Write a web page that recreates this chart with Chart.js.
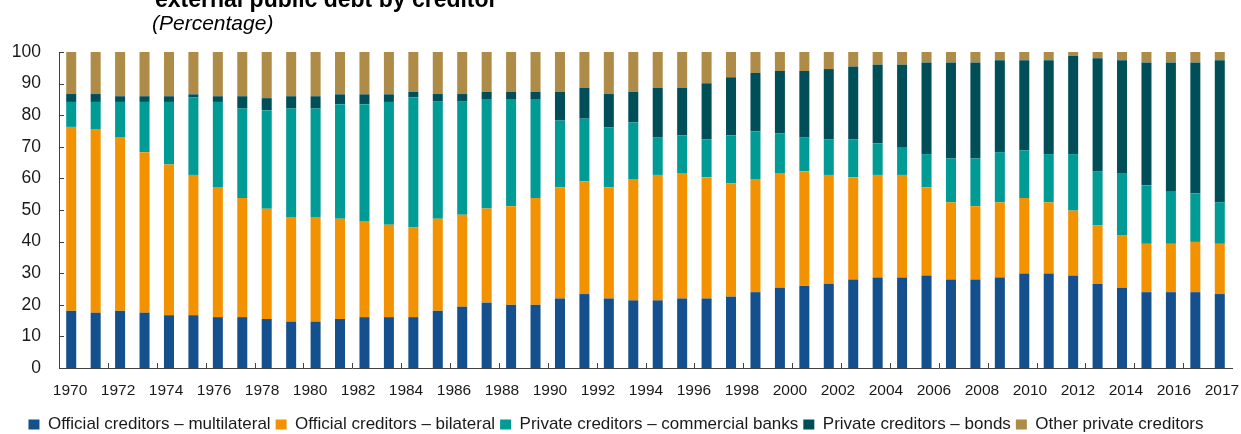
<!DOCTYPE html>
<html>
<head>
<meta charset="utf-8">
<title>External public debt by creditor</title>
<script src="https://cdn.jsdelivr.net/npm/chart.js@4.4.1/dist/chart.umd.min.js"></script>
<style>
    body { margin: 0; background: #fff; }
    #wrap { width: 1241px; height: 434px; position: relative; }
</style>
</head>
<body>
<div id="wrap"><canvas id="debt-chart"></canvas></div>
<script>
// Years on the category axis
const years = ['1970','1971','1972','1973','1974','1975','1976','1977','1978','1979',
    '1980','1981','1982','1983','1984','1985','1986','1987','1988','1989',
    '1990','1991','1992','1993','1994','1995','1996','1997','1998','1999',
    '2000','2001','2002','2003','2004','2005','2006','2007','2008','2009',
    '2010','2011','2012','2013','2014','2015','2016','2017'];

// Tick labels shown under the axis (every other year, plus the last one)
const tickLabels = ['1970','1972','1974','1976','1978','1980','1982','1984','1986','1988',
    '1990','1992','1994','1996','1998','2000','2002','2004','2006','2008',
    '2010','2012','2014','2016','2017'];

// Shares in percent
const multilateral = [18.1,17.5,18.1,17.5,16.7,16.7,16.1,16.1,15.5,14.7,
    14.7,15.5,16.1,16.1,16.1,18.1,19.4,20.7,20.0,20.0,
    22.0,23.4,22.0,21.4,21.4,22.0,22.0,22.6,24.0,25.4,
    26.0,26.6,28.0,28.6,28.6,29.3,28.0,28.0,28.6,29.9,
    29.9,29.3,26.6,25.4,24.0,24.0,24.0,23.4];
const bilateral = [58.2,58.1,55.0,50.8,47.7,44.4,41.2,37.7,34.9,33.1,
    33.1,31.7,30.4,29.2,28.4,29.1,29.1,29.8,31.2,33.8,
    35.2,35.7,35.2,38.4,39.7,39.7,38.4,35.8,35.8,36.3,
    36.3,34.5,32.4,32.5,32.5,27.9,24.4,23.2,23.8,23.9,
    22.5,20.5,18.6,16.5,15.3,15.3,15.9,15.9];
const commercialBanks = [7.9,8.6,11.1,15.9,19.8,24.6,26.9,28.3,31.2,34.3,
    34.3,36.3,37.0,38.9,41.1,37.1,35.8,34.6,33.9,31.3,
    21.1,19.8,19.0,17.9,11.8,11.9,12.0,15.2,15.1,12.5,
    10.6,11.3,12.0,10.0,8.6,10.5,13.9,15.1,15.9,15.1,
    15.3,17.9,17.1,19.8,18.5,16.5,15.3,13.1];
const bonds = [2.5,2.5,1.8,1.8,1.8,0.9,1.8,3.9,3.8,3.9,
    3.9,3.1,3.1,2.4,1.8,2.4,2.4,2.3,2.3,2.3,
    9.1,9.8,10.5,9.7,15.8,15.1,17.7,18.4,18.5,19.8,
    21.1,22.2,23.0,24.9,26.3,29.0,30.4,30.4,29.1,28.5,
    29.7,31.0,35.7,35.7,38.9,40.9,41.5,45.0];
const otherPrivate = [13.3,13.3,14.0,14.0,14.0,13.4,14.0,14.0,14.6,14.0,
    14.0,13.4,13.4,13.4,12.6,13.3,13.3,12.6,12.6,12.6,
    12.6,11.3,13.3,12.6,11.3,11.3,9.9,8.0,6.6,6.0,
    6.0,5.4,4.6,4.0,4.0,3.3,3.3,3.3,2.6,2.6,
    2.6,1.3,2.0,2.6,3.3,3.3,3.3,2.6];

const axisColor = '#404040';
const textColor = '#1a1a1a';

// Heading (top line is cut off in the source picture) and small axis ticks
const extras = {
    id: 'extras',
    afterDraw(chart) {
        const ctx = chart.ctx;
        const area = chart.chartArea;
        const xs = chart.scales.x;
        const ys = chart.scales.y;
        ctx.save();
        ctx.fillStyle = '#000';
        ctx.textBaseline = 'alphabetic';
        ctx.textAlign = 'left';
        ctx.font = 'bold 23px "Liberation Sans", Arial, sans-serif';
        ctx.fillText('external public debt by creditor', 155, 7);
        ctx.font = 'italic 21px "Liberation Sans", Arial, sans-serif';
        ctx.fillText('(Percentage)', 152, 30);

        // ticks point into the plot
        ctx.strokeStyle = axisColor;
        ctx.lineWidth = 1;
        ctx.beginPath();
        ys.ticks.forEach((t, i) => {
            const py = Math.round(ys.getPixelForTick(i)) + 0.5;
            ctx.moveTo(area.left, py);
            ctx.lineTo(area.left + 5, py);
        });
        for (let i = 2; i < years.length; i += 2) {
            const px = Math.round((xs.getPixelForValue(i - 1) + xs.getPixelForValue(i)) / 2) + 0.5;
            ctx.moveTo(px, area.bottom);
            ctx.lineTo(px, area.bottom - 5);
        }
        ctx.stroke();
        ctx.restore();
    }
};

let ctx = document.getElementById('debt-chart').getContext('2d');
new Chart(ctx, {
    type: 'bar',
    data: {
        labels: years,
        datasets: [
            { label: 'Official creditors \u2013 multilateral', data: multilateral, backgroundColor: '#13508D' },
            { label: 'Official creditors \u2013 bilateral', data: bilateral, backgroundColor: '#F39200' },
            { label: 'Private creditors \u2013 commercial banks', data: commercialBanks, backgroundColor: '#009B94' },
            { label: 'Private creditors \u2013 bonds', data: bonds, backgroundColor: '#004F58' },
            { label: 'Other private creditors', data: otherPrivate, backgroundColor: '#AE8C47' }
        ]
    },
    options: {
        responsive: true,
        maintainAspectRatio: false,
        animation: false,
        barPercentage: 0.41,
        categoryPercentage: 1,
        layout: { padding: { left: 0, right: 9, top: 52, bottom: -9 } },
        scales: {
            x: {
                stacked: true,
                grid: { display: false, drawTicks: false },
                border: { display: true, color: axisColor, width: 1 },
                ticks: { display: false },
                afterFit: function (axis) { axis.height = 0; }
            },
            yearLabels: {
                type: 'linear',
                axis: 'x',
                position: 'bottom',
                bounds: 'data',
                offset: false,
                min: -0.46,
                max: 48.42,
                grid: { display: false, drawTicks: false, offset: false },
                border: { display: false },
                afterBuildTicks: function (axis) {
                    axis.ticks = tickLabels.map((t, i) => ({ value: i * 2 }));
                },
                ticks: {
                    autoSkip: false,
                    maxRotation: 0,
                    minRotation: 0,
                    padding: 13,
                    color: textColor,
                    font: { family: '"Liberation Sans", Arial, sans-serif', size: 15.5 },
                    callback: function (value, index) { return tickLabels[index]; }
                },
                afterFit: function (axis) {
                    axis.height = 43;
                    // labels may spill past the plot edges, as in the original
                    axis.paddingLeft = 0;
                    axis.paddingRight = 0;
                }
            },
            y: {
                stacked: true,
                min: 0,
                max: 100,
                grid: { display: false, drawTicks: false },
                border: { display: true, color: axisColor, width: 1 },
                ticks: {
                    stepSize: 10,
                    padding: 18,
                    color: textColor,
                    font: { family: '"Liberation Sans", Arial, sans-serif', size: 17.5 }
                },
                afterFit: function (axis) { axis.width = 59; }
            }
        },
        plugins: {
            title: { display: false },
            tooltip: { enabled: false },
            legend: {
                position: 'bottom',
                labels: {
                    boxWidth: 11,
                    boxHeight: 10,
                    padding: 5,
                    color: textColor,
                    font: { family: '"Liberation Sans", Arial, sans-serif', size: 17 }
                }
            }
        }
    },
    plugins: [extras]
});
</script>
</body>
</html>
